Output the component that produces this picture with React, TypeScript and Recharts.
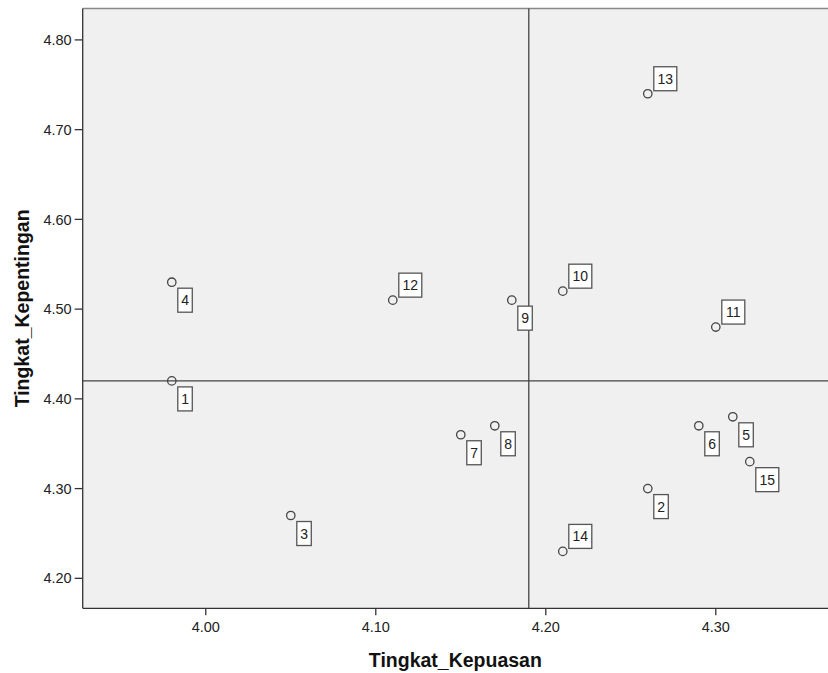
import React from 'react';
import {
    ScatterChart, Scatter, XAxis, YAxis, CartesianGrid,
    ReferenceLine, Label
} from 'recharts';

// case numbers and the two scores
const caseIds = [1, 2, 3, 4, 5, 6, 7, 8, 9, 10, 11, 12, 13, 14, 15];
const kepuasan = [3.98, 4.26, 4.05, 3.98, 4.31, 4.29, 4.15, 4.17, 4.18, 4.21, 4.30, 4.11, 4.26, 4.21, 4.32];
const kepentingan = [4.42, 4.30, 4.27, 4.53, 4.38, 4.37, 4.36, 4.37, 4.51, 4.52, 4.48, 4.51, 4.74, 4.23, 4.33];

const xTicks = [4.0, 4.1, 4.2, 4.3];
const yTicks = [4.2, 4.3, 4.4, 4.5, 4.6, 4.7, 4.8];

// quadrant lines (means)
const meanKepuasan = 4.19;
const meanKepentingan = 4.42;

const xDomain = [3.9276, 4.366];
const yDomain = [4.1666, 4.835];

// cases whose label box sits above the marker
const labelAbove = new Set([10, 11, 12, 13, 14]);

const FONT = '"Liberation Sans", Arial, sans-serif';

const data = caseIds.map((id, i) => ({ id, x: kepuasan[i], y: kepentingan[i] }));

const renderPoint = (props: any) => {
    const { cx, cy, payload } = props;
    const label = String(payload.id);
    const w = label.length > 1 ? 23 : 14.5;
    const h = 24;
    const bx = cx + 6;
    const by = labelAbove.has(payload.id) ? cy - 3 - h : cy + 6;
    return (
        <g>
            <rect x={bx} y={by} width={w} height={h} fill="#fff" stroke="#555" strokeWidth={1.3} />
            <text x={bx + w / 2} y={by + h / 2} dy="0.36em" textAnchor="middle"
                fontSize={14} fontFamily={FONT} fill="#222">{label}</text>
            <circle cx={cx} cy={cy} r={4.2} fill="none" stroke="#444" strokeWidth={1.3} />
        </g>
    );
};

const YTitle = (props: any) => {
    const { viewBox } = props;
    const x = 22;
    const y = viewBox.y + viewBox.height / 2;
    return (
        <text x={x} y={y} transform={`rotate(-90 ${x} ${y})`} dy="0.36em" textAnchor="middle"
            fontSize={19.5} fontWeight="bold" fontFamily={FONT} fill="#111">
            Tingkat_Kepentingan
        </text>
    );
};

const XTitle = (props: any) => {
    const { viewBox } = props;
    const x = viewBox.x + viewBox.width / 2;
    return (
        <text x={x} y={667} textAnchor="middle"
            fontSize={19.5} fontWeight="bold" fontFamily={FONT} fill="#111">
            Tingkat_Kepuasan
        </text>
    );
};

export default function App() {
    const tickStyle = { fill: '#222', fontSize: 14.5, fontFamily: FONT };
    return (
        <div style={{ position: 'absolute', left: 0, top: 0, width: 828, height: 673, background: '#fff' }}>
            <ScatterChart width={828} height={673} margin={{ top: 8.5, right: 0, bottom: 0, left: 0 }}>
                <CartesianGrid fill="#f0f0f0" horizontal={false} vertical={false} />
                <XAxis
                    type="number"
                    dataKey="x"
                    domain={xDomain}
                    ticks={xTicks}
                    allowDataOverflow
                    height={64.7}
                    tickFormatter={(v: number) => v.toFixed(2)}
                    tick={tickStyle}
                    tickSize={7}
                    tickMargin={6}
                    stroke="#333"
                    strokeWidth={1.3}
                >
                    <Label content={<XTitle />} />
                </XAxis>
                <YAxis
                    type="number"
                    dataKey="y"
                    domain={yDomain}
                    ticks={yTicks}
                    allowDataOverflow
                    width={82.7}
                    tickFormatter={(v: number) => v.toFixed(2)}
                    tick={tickStyle}
                    tickSize={8}
                    tickMargin={3}
                    stroke="#333"
                    strokeWidth={1.3}
                >
                    <Label content={<YTitle />} />
                </YAxis>
                <ReferenceLine y={yDomain[1]} stroke="#888" strokeWidth={1.3} />
                <ReferenceLine x={meanKepuasan} stroke="#444" strokeWidth={1.3} />
                <ReferenceLine y={meanKepentingan} stroke="#444" strokeWidth={1.3} />
                <Scatter data={data} shape={renderPoint} isAnimationActive={false} />
            </ScatterChart>
        </div>
    );
}
